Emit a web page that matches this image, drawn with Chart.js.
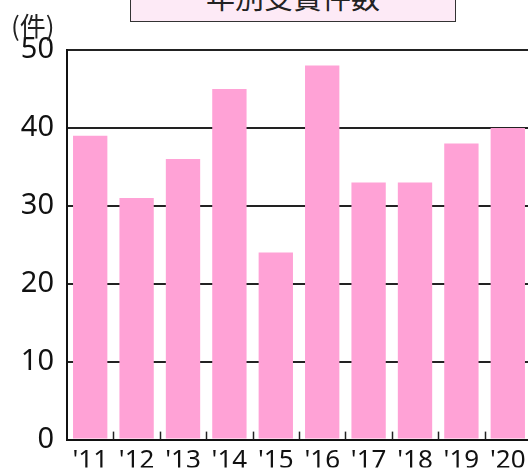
<!DOCTYPE html>
<html>
<head>
<meta charset="utf-8">
<script src="https://cdn.jsdelivr.net/npm/chart.js@4.4.1/dist/chart.umd.min.js"></script>
<style>
	html, body { margin: 0; padding: 0; background: #fff; overflow: hidden; width: 528px; height: 470px; }
	#wrap { position: relative; width: 528px; height: 470px; overflow: hidden; }
	#chart { position: absolute; left: 0; top: 0; }
	#title {
		position: absolute; left: 130px; top: -39px; width: 324px; height: 59px;
		background: #fdeaf6; border: 1px solid #333;
		font-family: "Noto Sans CJK JP", sans-serif; font-size: 29px; color: #222;
		text-align: center; line-height: 68px; letter-spacing: 0px;
	}
	#unit {
		position: absolute; left: 11px; top: 6px;
		font-family: "Noto Sans CJK JP", sans-serif; font-size: 26px; color: #222;
	}
</style>
</head>
<body>
<div id="wrap">
	<canvas id="chart" width="531" height="470"></canvas>
	<div id="title">年別受賞件数</div>
	<div id="unit">(件)</div>
</div>
<script>
var years = ["'11", "'12", "'13", "'14", "'15", "'16", "'17", "'18", "'19", "'20"];
var counts = [39, 31, 36, 45, 24, 48, 33, 33, 38, 40];
var yTicks = [0, 10, 20, 30, 40, 50];

// small upward ticks on the bottom axis between categories
var innerTicks = {
	id : "innerTicks",
	afterDatasetsDraw : function(chart) {
		var ctx = chart.ctx;
		var xs = chart.scales.x;
		var bottom = chart.chartArea.bottom;
		ctx.save();
		ctx.strokeStyle = "#222";
		ctx.lineWidth = 1.5;
		for (var i = 1; i < years.length; i++) {
			var x = Math.round(xs.getPixelForValue(i - 0.5)) + 0.5;
			ctx.beginPath();
			ctx.moveTo(x, bottom);
			ctx.lineTo(x, bottom - 8);
			ctx.stroke();
		}
		ctx.restore();
	}
};

var ctx = document.getElementById("chart");

var chart = new Chart(ctx, {
	type : "bar",
	data : {
		labels : years,
		datasets : [{
			data : counts,
			backgroundColor : "#ffa2d6",
			borderWidth : 0,
			categoryPercentage : 1,
			barPercentage : 0.74
		}]
	},
	options : {
		responsive : false,
		animation : false,
		devicePixelRatio : 1,
		layout : { padding : { top : 50, right : 0, left : 0, bottom : 0 } },
		plugins : {
			legend : { display : false },
			tooltip : { enabled : false },
			title : { display : false }
		},
		scales : {
			x : {
				grid : { display : false, drawTicks : false },
				border : { display : true, color : "#111", width : 2 },
				ticks : {
					color : "#111",
					padding : 5,
					maxRotation : 0,
					font : { family : "'Noto Sans', sans-serif", size : 26 }
				},
				afterFit : function(s) { s.height = 28; }
			},
			y : {
				min : 0,
				max : 50,
				afterBuildTicks : function(s) {
					s.ticks = yTicks.map(function(v) { return { value : v }; });
				},
				grid : { color : "#222", lineWidth : 2, drawTicks : false },
				border : { display : true, color : "#111", width : 2 },
				ticks : {
					color : "#111",
					padding : 13,
					font : { family : "'Noto Sans', sans-serif", size : 29 }
				},
				afterFit : function(s) { s.width = 67; }
			}
		}
	},
	plugins : [innerTicks]
});
</script>
</body>
</html>
